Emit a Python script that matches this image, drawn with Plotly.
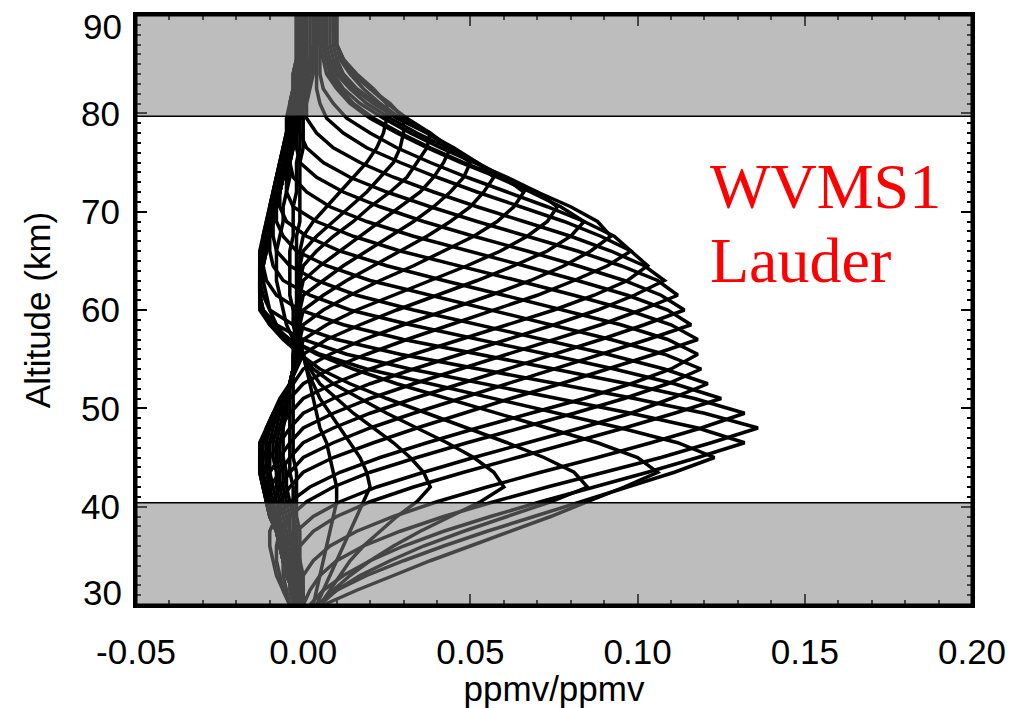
import plotly.graph_objects as go

# Altitude grid (km)
altitude_km = [30, 31.5, 33, 34.5, 36, 37.5, 39, 40.5, 42, 43.5, 45, 46.5, 48, 49.5, 51, 52.5,
               54, 55.5, 57, 58.5, 60, 61.5, 63, 64.5, 66, 67.5, 69, 70.5, 72, 73.5, 75, 76.5,
               78, 79.5, 81, 82.5, 84, 85.5, 87, 88.5, 90]

# Averaging kernel rows, values in (ppmv/ppmv) x 1000, one list per retrieval level
ak01 = [3,4,5,6,7,8,9,10,10,9, 8,7,5,4,3,2,1,0,-1,-1, -2,-2,-2,-2,-2,-2,-1,-1,-1,-1, -1,0,0,0,0,0,0,0,0,0, 0]
ak02 = [4,6,8,10,12,14,16,18,20,19, 17,14,11,8,5,3,1,0,-2,-3, -3,-4,-4,-4,-4,-3,-3,-3,-2,-2, -2,-1,-1,-1,0,0,0,0,0,0, 0]
ak03 = [5,8,11,14,18,23,28,34,38,36, 32,27,21,15,10,5,2,0,-3,-5, -6,-7,-8,-8,-8,-7,-6,-6,-5,-4, -4,-3,-3,-2,-2,-1,-1,-1,-1,-1, -1]
ak04 = [5,9,14,20,27,35,44,53,60,57, 51,43,34,25,17,9,3,-1,-5,-8, -10,-11,-12,-12,-12,-11,-10,-9,-8,-7, -6,-5,-4,-4,-3,-3,-2,-2,-2,-2, -2]
ak05 = [5,10,17,26,36,48,61,74,85,81, 72,61,49,37,25,14,5,-1,-6,-10, -12,-13,-13,-13,-13,-12,-11,-10,-9,-8, -7,-6,-5,-4,-4,-3,-3,-2,-2,-2, -2]
ak06 = [6,16,27,38,50,62,74,85,96,106, 100,88,73,58,43,28,15,4,-4,-9, -12,-13,-13,-13,-12,-12,-11,-10,-9,-8, -7,-6,-5,-4,-4,-3,-3,-2,-2,-2, -2]
ak07 = [4,10,19,30,42,55,69,83,97,111, 123,112,95,76,56,37,19,5,-4,-10, -13,-13,-13,-13,-12,-11,-10,-10,-9,-8, -7,-6,-5,-5,-4,-3,-3,-2,-2,-2, -2]
ak08 = [2,6,12,20,30,42,56,71,87,103, 118,132,118,98,76,54,32,13,0,-8, -12,-13,-13,-12,-11,-10,-9,-8,-7,-6, -5,-4,-4,-3,-3,-2,-2,-1,-1,-1, -1]
ak09 = [0,2,5,10,18,29,42,57,73,90, 107,122,136,120,99,76,52,29,10,-3, -10,-12,-13,-12,-11,-10,-9,-8,-7,-6, -5,-4,-3,-3,-2,-2,-1,-1,-1,-1, -1]
ak10 = [-2,-2,0,3,8,16,27,40,55,71, 88,104,119,132,117,97,75,52,30,12, -1,-8,-11,-12,-11,-10,-9,-8,-7,-6, -5,-4,-3,-3,-2,-2,-1,-1,-1,-1, -1]
ak11 = [-3,-4,-4,-3,-1,3,10,20,33,48, 64,80,96,111,125,111,93,73,52,32, 14,2,-6,-9,-10,-10,-9,-8,-7,-6, -5,-4,-3,-3,-2,-2,-1,-1,0,0, 0]
ak12 = [-4,-5,-6,-6,-5,-2,3,11,22,36, 51,67,83,98,110,121,108,91,72,52, 33,16,4,-4,-8,-9,-9,-8,-7,-6, -5,-4,-3,-2,-2,-1,-1,0,0,0, 0]
ak13 = [-4,-6,-7,-8,-8,-7,-4,1,9,20, 34,49,65,81,96,109,119,108,92,74, 55,37,20,7,-2,-6,-8,-8,-7,-6, -5,-4,-3,-2,-1,-1,0,0,0,0, 0]
ak14 = [-4,-6,-8,-9,-10,-10,-8,-4,2,11, 23,37,52,68,84,98,110,118,109,95, 78,60,42,25,11,1,-5,-7,-7,-6, -5,-4,-3,-2,-1,0,0,0,0,0, 0]
ak15 = [-2,-3,-4,-5,-6,-7,-8,-7,-4,0, 9,21,34,48,62,77,91,105,118,110, 97,81,64,46,29,15,4,-3,-5,-5, -4,-3,-2,-1,0,0,1,1,1,1, 1]
ak16 = [-2,-3,-4,-6,-7,-8,-9,-9,-7,-4, 0,9,20,33,47,61,75,89,103,116, 109,97,82,66,49,33,19,8,1,-3, -4,-3,-2,-1,0,1,1,2,2,2, 2]
ak17 = [-2,-3,-5,-6,-7,-8,-10,-10,-10,-7, -4,0,9,20,33,47,61,75,89,102, 114,107,96,82,67,51,36,23,12,4, -1,-2,-2,-1,0,1,2,2,3,3, 3]
ak18 = [-2,-3,-5,-6,-7,-8,-10,-11,-11,-10, -7,-4,0,9,20,33,47,61,75,89, 101,112,106,95,82,67,52,38,25,14, 6,1,-1,-1,0,1,2,3,3,3, 3]
ak19 = [-2,-3,-5,-6,-7,-8,-10,-11,-12,-12, -10,-7,-4,0,9,20,33,47,61,75, 88,99,108,102,92,80,66,52,39,27, 17,9,4,1,1,2,3,3,4,4, 4]
ak20 = [-2,-3,-5,-6,-7,-8,-10,-11,-12,-13, -12,-10,-7,-4,0,9,20,33,47,61, 75,87,97,103,98,89,78,65,52,40, 29,19,12,7,5,4,4,4,4,4, 4]
ak21 = [-2,-3,-5,-6,-7,-8,-10,-11,-12,-13, -13,-12,-10,-7,-4,0,8,19,31,44, 57,70,81,91,98,93,84,73,61,49, 38,28,20,13,9,6,5,5,5,5, 5]
ak22 = [-2,-3,-4,-6,-7,-8,-9,-10,-12,-13, -13,-13,-11,-9,-6,-3,0,8,18,30, 43,56,68,78,86,92,88,80,70,59, 48,38,29,21,15,11,8,7,6,6, 6]
ak23 = [-2,-3,-4,-5,-6,-7,-9,-10,-11,-12, -12,-12,-11,-9,-7,-4,-2,0,7,17, 28,40,52,63,73,80,84,77,68,58, 47,37,28,20,14,10,7,6,5,5, 5]
ak24 = [-1,-2,-3,-4,-5,-6,-8,-9,-10,-11, -11,-11,-10,-8,-6,-4,-3,-1,0,7, 16,27,38,49,59,67,73,76,70,61, 51,41,32,24,17,12,9,7,6,6, 6]
ak25 = [-1,-2,-3,-4,-5,-6,-7,-8,-9,-10, -10,-10,-9,-8,-6,-4,-3,-2,-1,0, 6,14,23,33,42,51,58,63,66,60, 52,43,34,26,19,14,10,8,7,7, 7]
ak26 = [-1,-2,-2,-3,-4,-5,-6,-7,-8,-8, -9,-9,-8,-7,-6,-4,-3,-2,-2,-1, 0,6,13,21,29,37,44,50,54,57, 52,45,37,28,21,15,11,9,8,8, 8]
ak27 = [-1,-1,-2,-3,-3,-4,-5,-6,-7,-7, -8,-8,-7,-6,-5,-4,-3,-2,-2,-1, -1,0,6,12,19,26,33,39,44,48, 50,44,37,29,22,16,12,10,9,9, 9]
ak28 = [-1,-1,-2,-2,-3,-4,-4,-5,-6,-6, -7,-7,-6,-6,-5,-4,-3,-3,-2,-2, -1,-1,0,5,11,17,23,29,35,39, 42,44,38,29,23,18,14,11,10,9, 9]
ak29 = [0,-1,-1,-2,-2,-3,-3,-4,-5,-5, -6,-6,-6,-5,-5,-4,-3,-3,-2,-2, -1,-1,-1,0,4,9,15,20,26,31, 34,37,38,31,25,20,15,12,10,10, 10]
ak30 = [0,0,-1,-1,-2,-2,-3,-3,-3,-4, -4,-4,-4,-4,-4,-4,-3,-3,-3,-2, -2,-1,-1,-1,0,4,9,14,19,23, 27,29,30,30,26,20,15,12,10,10, 10]
ak31 = [0,0,0,-1,-1,-1,-2,-2,-2,-2, -3,-3,-3,-3,-3,-3,-3,-2,-2,-2, -2,-1,-1,-1,-1,0,3,7,11,15, 19,22,24,25,25,21,16,12,10,10, 10]

kernels = [ak01, ak02, ak03, ak04, ak05, ak06, ak07, ak08, ak09, ak10, ak11, ak12, ak13, ak14,
           ak15, ak16, ak17, ak18, ak19, ak20, ak21, ak22, ak23, ak24, ak25, ak26, ak27, ak28,
           ak29, ak30, ak31]

# Shaded (low-sensitivity) altitude bands, km
low_band = [29.0, 40.4]
high_band = [79.7, 91.0]

x_ticks = [-0.05, 0.00, 0.05, 0.10, 0.15, 0.20]
x_ticklabels = ["-0.05", "0.00", "0.05", "0.10", "0.15", "0.20"]
y_ticks = [30, 40, 50, 60, 70, 80, 90]
y_ticklabels = ["", "40", "50", "60", "70", "80", ""]
# edge labels that sit inside the frame span in the original
y_edge_labels = [("30", 31.25), ("90", 88.8)]

fig = go.Figure()
for row in kernels:
    xs = [v / 1000.0 for v, _ in zip(row, altitude_km)]
    ys = [a for _, a in zip(row, altitude_km)]
    fig.add_trace(go.Scatter(x=xs, y=ys, mode="lines",
                             line=dict(color="black", width=3.5),
                             hoverinfo="skip", showlegend=False))

band_fill = "rgba(130,130,130,0.53)"
for lo, hi in (low_band, high_band):
    fig.add_shape(type="rect", xref="paper", yref="y", x0=0, x1=1, y0=lo, y1=hi,
                  fillcolor=band_fill, line=dict(width=0), layer="above")
fig.add_shape(type="line", xref="paper", yref="y", x0=0, x1=1, y0=low_band[1], y1=low_band[1],
              line=dict(color="black", width=1.5), layer="above")
fig.add_shape(type="line", xref="paper", yref="y", x0=0, x1=1, y0=high_band[0], y1=high_band[0],
              line=dict(color="black", width=1.5), layer="above")
# frame on top of the shading
fig.add_shape(type="rect", xref="paper", yref="paper", x0=0, x1=1, y0=0, y1=1,
              line=dict(color="black", width=3), fillcolor="rgba(0,0,0,0)", layer="above")

axis_font = dict(family="Liberation Sans", size=35, color="black")

for txt, yv in y_edge_labels:
    fig.add_annotation(text=txt, x=-0.0, xref="paper", xshift=-12, y=yv, yref="y",
                       xanchor="right", yanchor="middle", showarrow=False, font=axis_font)

fig.add_annotation(text="WVMS1", x=0.121, y=72.6, xref="x", yref="y", xanchor="left",
                   yanchor="middle", showarrow=False,
                   font=dict(family="Liberation Serif", size=64, color="red"))
fig.add_annotation(text="Lauder", x=0.121, y=65.0, xref="x", yref="y", xanchor="left",
                   yanchor="middle", showarrow=False,
                   font=dict(family="Liberation Serif", size=64, color="red"))

fig.update_xaxes(range=[-0.05, 0.20], tickvals=x_ticks, ticktext=x_ticklabels,
                 ticks="inside", ticklen=11, tickwidth=2, tickcolor="black",
                 minor=dict(ticks="inside", ticklen=5, tickwidth=2, tickcolor="black", dtick=0.01,
                            tick0=0, showgrid=False),
                 showline=True, linewidth=3, linecolor="black", mirror="allticks",
                 showgrid=False, zeroline=False, tickfont=axis_font, ticklabelstandoff=14,
                 automargin=False,
                 title=dict(text="ppmv/ppmv", font=axis_font, standoff=0))
fig.update_yaxes(range=[30, 90], tickvals=y_ticks, ticktext=y_ticklabels,
                 ticks="inside", ticklen=11, tickwidth=2, tickcolor="black",
                 minor=dict(ticks="inside", ticklen=5, tickwidth=2, tickcolor="black", dtick=1,
                            tick0=30, showgrid=False),
                 showline=True, linewidth=3, linecolor="black", mirror="allticks",
                 showgrid=False, zeroline=False, tickfont=axis_font, ticklabelstandoff=6,
                 automargin=False,
                 title=dict(text="Altitude (km)", font=axis_font, standoff=20))

fig.update_layout(width=1014, height=708, margin=dict(l=136, r=42, t=15, b=103),
                  paper_bgcolor="white", plot_bgcolor="white")

fig.write_html("out.html")
